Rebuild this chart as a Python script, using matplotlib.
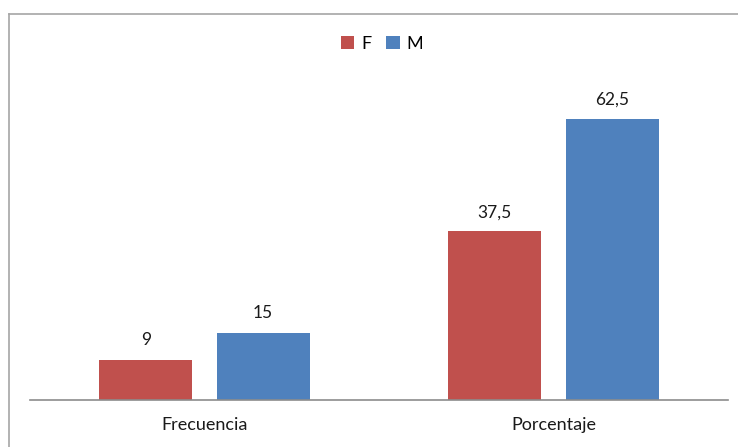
import matplotlib.pyplot as plt
from matplotlib.lines import Line2D
import numpy as np

categories = ["Frecuencia", "Porcentaje"]
series_names = ["F", "M"]
f_values = [9, 37.5]
m_values = [15, 62.5]
f_labels = ["9", "37,5"]
m_labels = ["15", "62,5"]

RED = "#C0504D"
BLUE = "#4F81BD"

plt.rcParams["font.family"] = ["Lato", "DejaVu Sans"]

W, H = 738, 447
fig = plt.figure(figsize=(W / 100, H / 100), dpi=100)

# axes placed in pixel terms: baseline at y=400, plot from x=30 to 728
ax = fig.add_axes([30 / W, (H - 400) / H, 698 / W, 315 / H])
x = np.arange(len(categories))
bw = 0.266
off = 0.168

bars_f = ax.bar(x - off, f_values, bw, color=RED, label=series_names[0])
bars_m = ax.bar(x + off, m_values, bw, color=BLUE, label=series_names[1])

for bars, labels in [(bars_f, f_labels), (bars_m, m_labels)]:
    for b, lab in zip(bars, labels):
        ax.annotate(lab, (b.get_x() + b.get_width() / 2, b.get_height()),
                    xytext=(0, 8), textcoords="offset points",
                    ha="center", va="bottom", fontsize=12.5, color="#1a1a1a")

ax.set_xlim(-0.5, 1.5)
ax.set_ylim(0, 70)
ax.set_xticks(x)
ax.set_xticklabels(categories, fontsize=13, color="#1a1a1a")
ax.tick_params(axis="x", length=0, pad=12)
ax.set_yticks([])
for side in ["top", "right", "left"]:
    ax.spines[side].set_visible(False)
ax.spines["bottom"].set_color("#8c8c8c")
ax.spines["bottom"].set_linewidth(1.2)

leg = fig.legend(loc="center", bbox_to_anchor=(382 / W, 1 - 44 / H), ncol=2,
                 frameon=False, fontsize=13, handlelength=0.75, handleheight=0.75,
                 handletextpad=0.4, columnspacing=0.8)

# outer chart border (left and top edges visible in the crop)
fig.add_artist(Line2D([8.5 / W, 8.5 / W], [0, 1 - 14 / H], color="#a6a6a6", lw=1.2,
                      transform=fig.transFigure))
fig.add_artist(Line2D([8.5 / W, 1], [1 - 14 / H, 1 - 14 / H], color="#a6a6a6", lw=1.2,
                      transform=fig.transFigure))

fig.savefig("out.png", dpi=100)
